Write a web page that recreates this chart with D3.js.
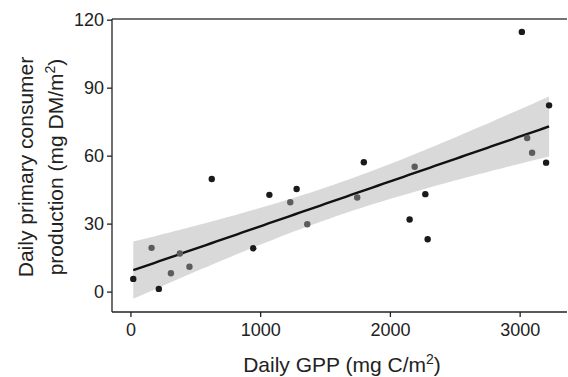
<!DOCTYPE html>
<html>
<head>
<meta charset="utf-8">
<script src="https://cdn.jsdelivr.net/npm/d3@7"></script>
<style>
  html, body { margin: 0; padding: 0; background: #fff; }
  svg { display: block; font-family: "Liberation Sans", Arial, sans-serif; }
</style>
</head>
<body>
<svg id="chart" width="568" height="377"></svg>
<script>
// GPP (mg C/m2) and consumer production (mg DM/m2)
const darkGpp = [22, 219, 627, 947, 1071, 1281, 1799, 2152, 2273, 2291, 3017, 3204, 3227];
const darkProd = [5.6, 1.2, 49.7, 19.1, 42.7, 45.3, 57.1, 31.8, 43.0, 23.1, 114.6, 56.9, 82.2];
const greyGpp = [163, 312, 381, 455, 1232, 1363, 1748, 2191, 3058, 3096];
const greyProd = [19.3, 8.1, 16.8, 11.0, 39.4, 29.7, 41.5, 55.1, 67.8, 61.3];
const xTicks = [0, 1000, 2000, 3000];
const yTicks = [0, 30, 60, 90, 120];

const svg = d3.select('#chart');
const M = { left: 112, top: 19, right: 567, bottom: 312 };

const x = d3.scaleLinear().domain([-142, 3365]).range([M.left, M.right]);
const y = d3.scaleLinear().domain([-9, 120.3]).range([M.bottom, M.top]);

const pts = darkGpp.map((g, i) => ({ g, p: darkProd[i], grp: 'dark' }))
  .concat(greyGpp.map((g, i) => ({ g, p: greyProd[i], grp: 'grey' })));

// ordinary least squares with a 95% confidence band
const n = pts.length;
const mx = d3.mean(pts, d => d.g);
const my = d3.mean(pts, d => d.p);
const sxx = d3.sum(pts, d => (d.g - mx) ** 2);
const slope = d3.sum(pts, d => (d.g - mx) * (d.p - my)) / sxx;
const icpt = my - slope * mx;
const s = Math.sqrt(d3.sum(pts, d => (d.p - icpt - slope * d.g) ** 2) / (n - 2));
const tCrit = 2.08;
const [gMin, gMax] = d3.extent(pts, d => d.g);
const band = d3.range(0, 81).map(i => {
  const g = gMin + (gMax - gMin) * i / 80;
  const fit = icpt + slope * g;
  const se = s * Math.sqrt(1 / n + (g - mx) ** 2 / sxx);
  return { g, fit, lo: fit - tCrit * se, hi: fit + tCrit * se };
});

svg.append('path')
  .datum(band)
  .attr('fill', '#d9d9d9')
  .attr('d', d3.area().x(d => x(d.g)).y0(d => y(d.lo)).y1(d => y(d.hi)));

svg.append('path')
  .datum(band)
  .attr('fill', 'none')
  .attr('stroke', '#111')
  .attr('stroke-width', 2.4)
  .attr('d', d3.line().x(d => x(d.g)).y(d => y(d.fit)));

svg.selectAll('.pt')
  .data(pts)
  .join('circle')
  .attr('class', 'pt')
  .attr('cx', d => x(d.g))
  .attr('cy', d => y(d.p))
  .attr('r', 3.2)
  .attr('fill', d => d.grp === 'dark' ? '#1a1a1a' : '#5c5c5c');

// panel frame
svg.append('line').attr('x1', M.left).attr('x2', M.right).attr('y1', M.top).attr('y2', M.top)
  .attr('stroke', '#444').attr('stroke-width', 1.3);

const xAxis = svg.append('g')
  .attr('transform', `translate(0,${M.bottom})`)
  .call(d3.axisBottom(x).tickValues(xTicks).tickFormat(d3.format('d')).tickSize(5).tickPadding(6));
const yAxis = svg.append('g')
  .attr('transform', `translate(${M.left},0)`)
  .call(d3.axisLeft(y).tickValues(yTicks).tickFormat(d3.format('d')).tickSize(5).tickPadding(3));

[xAxis, yAxis].forEach(a => {
  a.select('.domain').attr('stroke', '#222').attr('stroke-width', 1.3);
  a.selectAll('.tick line').attr('stroke', '#222').attr('stroke-width', 1.3);
  a.selectAll('.tick text').attr('fill', '#222').style('font-size', '18px');
});
xAxis.select('.domain').attr('d', `M${M.left},0H${M.right}`);
yAxis.select('.domain').attr('d', `M0,${M.top}V${M.bottom}`);

// axis titles
const xt = svg.append('text')
  .attr('x', 342).attr('y', 372)
  .attr('text-anchor', 'middle')
  .attr('fill', '#222')
  .style('font-size', '21px')
  .text('Daily GPP (mg C/m');
xt.append('tspan').attr('dy', -8).style('font-size', '14px').text('2');
xt.append('tspan').attr('dy', 8).text(')');

const yt = svg.append('g').attr('transform', 'translate(0,167) rotate(-90)');
yt.append('text')
  .attr('x', 0).attr('y', 33)
  .attr('text-anchor', 'middle')
  .attr('fill', '#222')
  .style('font-size', '21px')
  .text('Daily primary consumer');
const yt2 = yt.append('text')
  .attr('x', 0).attr('y', 63)
  .attr('text-anchor', 'middle')
  .attr('fill', '#222')
  .style('font-size', '21px')
  .text('production (mg DM/m');
yt2.append('tspan').attr('dy', -8).style('font-size', '14px').text('2');
yt2.append('tspan').attr('dy', 8).text(')');
</script>
</body>
</html>
